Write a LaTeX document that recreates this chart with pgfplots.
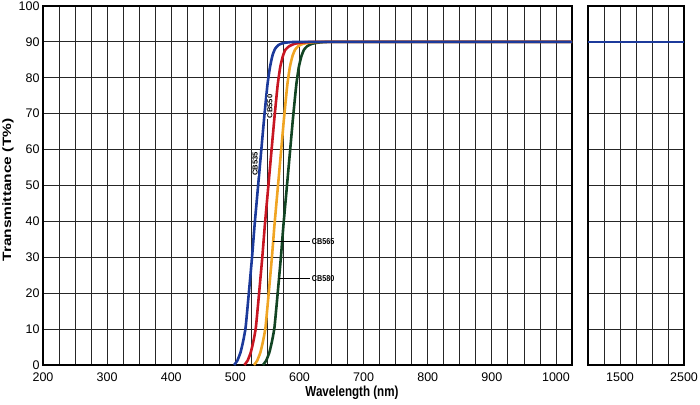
\documentclass[border=0pt]{standalone}
\usepackage{pgfplots}
\pgfplotsset{compat=1.18}
\usepackage{fontspec}
\setmainfont{Liberation Sans}
\definecolor{cbblue}{RGB}{28,58,155}
\definecolor{cbred}{RGB}{200,22,34}
\definecolor{cborange}{RGB}{240,165,35}
\definecolor{cbgreen}{RGB}{18,68,35}
\tikzset{cbl/.style={inner sep=0.6pt, font=\fontsize{8.5}{9}\selectfont\bfseries}}
\pgfplotsset{
  common/.style={
    scale only axis,
    height=359pt,
    ymin=0, ymax=100,
    ytick={0,10,...,100},
    grid=both,
    major grid style={black!85, line width=0.8pt},
    minor grid style={black!85, line width=0.8pt},
    axis line style={black, line width=1.1pt},
    major tick length=0pt, minor tick length=0pt,
    tick style={draw=none},
    ticklabel style={font=\fontsize{12.5}{14}\selectfont},
    /pgf/number format/assume math mode=true,
    /pgf/number format/1000 sep={},
    xticklabel style={yshift=-4pt},
    clip=true,
  },
  curve/.style={line width=2.6pt, smooth, tension=0.3, no marks},
}
\begin{document}
\begin{tikzpicture}[x=1pt,y=1pt]
\useasboundingbox (0,0) rectangle (700,404);
\begin{axis}[common,
  at={(43pt,39pt)}, anchor=south west,
  width=529pt,
  xmin=200, xmax=1025,
  xtick={200,300,...,1000},
  minor xtick={225,250,275,325,350,375,425,450,475,525,550,575,625,650,675,725,750,775,825,850,875,925,950,975},
]
\addplot[curve, cbgreen] coordinates {
(543,0) (548,1.2) (553,3.5) (557,6.5) (561,10.5) (566,20) (571,30) (575,39) (580,49) (585,59) (590,69) (595,78) (599,83) (603,86) (607,87.8) (612,88.8) (619,89.45) (629,89.8) (645,90) (700,90) (1025,90)};
\addplot[curve, cborange] coordinates {
(529,0) (534,1.2) (539,3.5) (543,6.5) (547,10.5) (552,20) (557,30) (561,39) (566,49) (571,59) (576,69) (581,78) (585,83) (589,86) (593,87.8) (598,88.8) (605,89.45) (616,89.8) (632,90) (700,90) (1025,90)};
\addplot[curve, cbred] coordinates {
(514,0) (519,1.2) (524,3.5) (528,6.5) (532,10.5) (537,20) (542,30) (546,39) (551,49) (556,59) (561,69) (566,78) (570,83) (574,86) (578,87.8) (584,88.8) (592,89.45) (603,89.8) (620,90) (700,90) (1025,90)};
\addplot[curve, cbblue] coordinates {
(498,0) (503,1.2) (508,3.5) (512,6.5) (516,10.5) (521,20) (526,30) (530,39) (535,49) (540,59) (545,69) (550,78) (554,83) (558,86.3) (562,88.1) (567,89.1) (574,89.65) (585,89.92) (600,90) (700,90) (1025,90)};
\draw[black, line width=0.8pt] (axis cs:559,34.5) -- (axis cs:617,34.5);
\draw[black, line width=0.8pt] (axis cs:568,24.2) -- (axis cs:617,24.2);
\node[cbl, anchor=west] at (axis cs:618,34.5) {\scalebox{0.85}[1]{CB565}};
\node[cbl, anchor=west] at (axis cs:618,24.2) {\scalebox{0.85}[1]{CB580}};
\node[cbl, rotate=90, fill=white] at (axis cs:531,56) {\scalebox{0.9}[0.85]{CB535}};
\node[cbl, rotate=90, fill=white] at (axis cs:554,72) {\scalebox{0.9}[0.85]{CB550}};
\end{axis}
\begin{axis}[common,
  at={(588pt,39pt)}, anchor=south west,
  width=96pt,
  xmin=1000, xmax=2500,
  xtick={1500,2500},
  minor xtick={1250,1750,2000,2250},
  yticklabels={},
]
\addplot[line width=2.6pt, cbblue, no marks] coordinates {(1000,90) (2500,90)};
\end{axis}
\node[font=\fontsize{14.5}{16}\selectfont\bfseries] at (352,11) {\scalebox{0.8}[1]{Wavelength (nm)}};
\node[rotate=90, font=\fontsize{15.5}{17}\selectfont\bfseries] at (8,214) {\scalebox{1}[0.78]{Transmittance (T\%)}};
\end{tikzpicture}
\end{document}
